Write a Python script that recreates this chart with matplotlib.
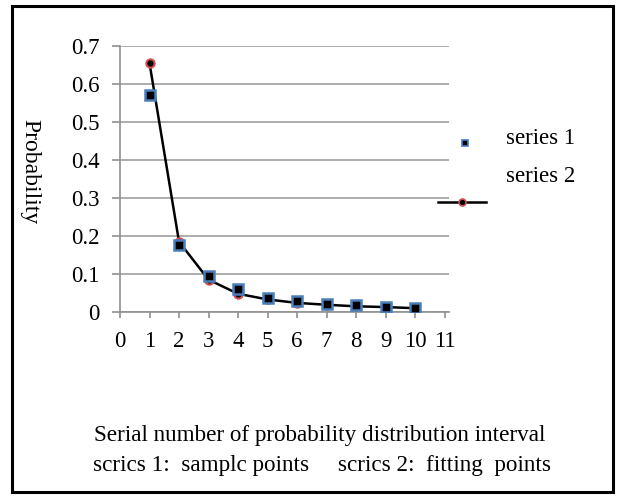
import matplotlib
matplotlib.use("Agg")
import matplotlib.pyplot as plt
from matplotlib.lines import Line2D
from matplotlib.patches import Rectangle

x = [1, 2, 3, 4, 5, 6, 7, 8, 9, 10]
series1 = [0.57, 0.177, 0.095, 0.060, 0.037, 0.030, 0.020, 0.018, 0.014, 0.011]
series2 = [0.655, 0.185, 0.085, 0.048, 0.033, 0.024, 0.019, 0.015, 0.013, 0.010]
xticks = list(range(0, 12))
yticks = [0, 0.1, 0.2, 0.3, 0.4, 0.5, 0.6, 0.7]
yticklabels = ['0', '0.1', '0.2', '0.3', '0.4', '0.5', '0.6', '0.7']

plt.rcParams['font.family'] = ['Liberation Serif', 'DejaVu Serif']
fig = plt.figure(figsize=(6.21, 5.0), dpi=100)
ax = fig.add_axes([120/621, 1-312/500, (449-120)/621, (312-46)/500])

ax.plot(x, series2, color='black', lw=1.8, marker='o', ms=6,
        mfc='black', mec='#d05050', mew=1.5, zorder=3)
ax.plot(x, series1, ls='none', marker='s', ms=7, mfc='black',
        mec='#4a7ebb', mew=1.8, zorder=4)

ax.set_xlim(0, 11.15)
ax.set_ylim(0, 0.7)
ax.set_xticks(xticks)
ax.set_yticks(yticks)
ax.set_yticklabels(yticklabels)
ax.grid(axis='y', color='#a0a0a0', lw=1.2)
ax.set_axisbelow(True)
for s in ['top', 'right']:
    ax.spines[s].set_visible(False)
for s in ['left', 'bottom']:
    ax.spines[s].set_color('#909090')
    ax.spines[s].set_linewidth(1.2)
ax.tick_params(axis='both', direction='out', color='#909090',
               width=1.2, labelsize=16.5)
ax.tick_params(axis='x', length=4.5, pad=9)
ax.tick_params(axis='y', length=5.8, pad=9)

fig.text(30/621, 1-172/500, 'Probability', rotation=-90, ha='center',
         va='center', fontsize=17)
fig.text(320/621, 1-436/500, 'Serial number of probability distribution interval',
         ha='center', va='center', fontsize=16.7)
fig.text(322/621, 1-465/500, 'scrics 1:  samplc points     scrics 2:  fitting  points',
         ha='center', va='center', fontsize=16.7)

# legend
fig.add_artist(Line2D([465/621], [1-143/500], marker='s', ms=5, mfc='black',
                      mec='#4a7ebb', mew=1.2, ls='none'))
fig.text(506/621, 1-139/500, 'series 1', ha='left', va='center', fontsize=16.5)
fig.text(506/621, 1-177/500, 'series 2', ha='left', va='center', fontsize=16.5)
fig.add_artist(Line2D([438/621, 486/621], [1-202/500, 1-202/500], color='black',
                      lw=1.8, marker=None))
fig.add_artist(Line2D([462/621], [1-202/500], marker='o', ms=5, mfc='black',
                      mec='#d05050', mew=1.2, ls='none'))

fig.add_artist(Rectangle((12/621, 1-492/500), (613-12)/621, (492-6)/500,
                         fill=False, ec='black', lw=2.2, transform=fig.transFigure))

fig.savefig('out.png', dpi=100)
